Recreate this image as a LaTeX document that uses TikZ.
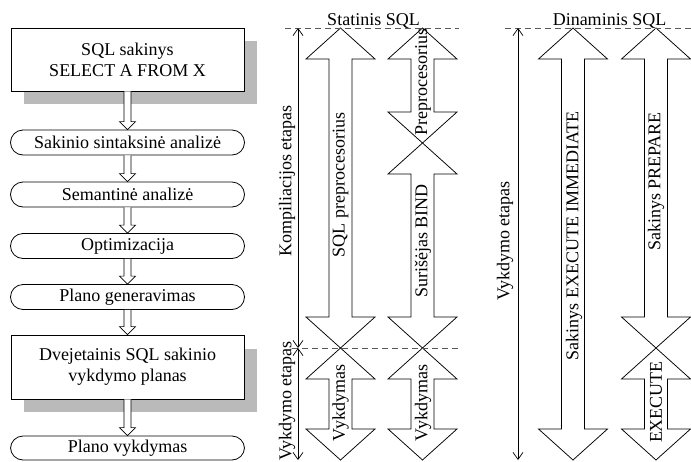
\documentclass[tikz,border=0pt]{standalone}
\usepackage{fontspec}
\setmainfont{Liberation Serif}
\usetikzlibrary{arrows.meta,calc}
\newcommand\LinkArr[2]{%
  \path let \p1=(#1.south), \p2=(#2.north) in
    [hollow] (\x1-3.5pt,\y1) -- (\x1-3.5pt,\y2+8pt) -- (\x1-8pt,\y2+8pt) -- (\x1,\y2)
    -- (\x1+8pt,\y2+8pt) -- (\x1+3.5pt,\y2+8pt) -- (\x1+3.5pt,\y1);}
\newcommand\BigArr[3]{%
  \draw[bigarrow] (#1,#2) -- (#1+34.5,#2+31) -- (#1+11.5,#2+31) -- (#1+11.5,#3-31)
    -- (#1+34.5,#3-31) -- (#1,#3) -- (#1-34.5,#3-31) -- (#1-11.5,#3-31)
    -- (#1-11.5,#2+31) -- (#1-34.5,#2+31) -- cycle;}
\begin{document}
\begin{tikzpicture}[x=1pt,y=-1pt,
  font=\fontsize{18pt}{21pt}\selectfont,
  box/.style={draw, line width=0.8pt, fill=white, minimum width=233pt, minimum height=63pt, align=center, inner sep=0pt},
  rbox/.style={draw, line width=0.8pt, fill=white, rounded corners=12.5pt, minimum width=234pt, minimum height=25pt, inner sep=0pt},
  shadowfill/.style={fill=black!27, draw=none},
  hollow/.style={draw, fill=white, line width=0.7pt},
  bigarrow/.style={draw, fill=white, line width=0.75pt, line join=miter},
  dashln/.style={draw=black!65, line width=0.8pt, dash pattern=on 6pt off 4pt},
  axis/.style={line width=0.7pt, {Straight Barb[length=7pt,width=10pt]}-{Straight Barb[length=7pt,width=10pt]}},
  vlabel/.style={rotate=90, inner sep=0pt}]
\useasboundingbox (0,0) rectangle (691,461);
% left column
\fill[shadowfill] (24,41) rectangle (257,104);
\node[box] (b1) at (127.5,59.5) {SQL sakinys\\SELECT A FROM X};
\node[rbox] (r1) at (127.5,142.5) {Sakinio sintaksinė analizė};
\node[rbox] (r2) at (127.5,194.5) {Semantinė analizė};
\node[rbox] (r3) at (127.5,246) {Optimizacija};
\node[rbox] (r4) at (127.5,297) {Plano generavimas};
\fill[shadowfill] (24,349) rectangle (257,412);
\node[box, minimum height=64pt] (b2) at (127.5,367) {Dvejetainis SQL sakinio\\vykdymo planas};
\node[rbox, minimum height=24pt] (r5) at (127.5,448) {Plano vykdymas};
\LinkArr{b1}{r1}
\LinkArr{r1}{r2}
\LinkArr{r2}{r3}
\LinkArr{r3}{r4}
\LinkArr{r4}{b2}
\LinkArr{b2}{r5}
% titles
\node[anchor=base, inner sep=0pt] (st) at (373.5,25) {Statinis SQL};
\node[anchor=base, inner sep=0pt] (dn) at (609.5,25) {Dinaminis SQL};
% big arrows
\BigArr{340.5}{28}{348}
\BigArr{340.5}{348}{460}
\BigArr{422.5}{28}{143}
\BigArr{422.5}{143}{348}
\BigArr{422.5}{348}{460}
\BigArr{573}{28}{460}
\BigArr{656}{28}{348}
\BigArr{656}{348}{460}
% dashed lines
\draw[dashln] (285,28) -- (459,28);
\draw[dashln] (505,28) -- (691,28);
\draw[dashln] (292,348) -- (459,348);
% axes
\coordinate (k1) at (298,28);
\coordinate (k2) at (298,348);
\coordinate (k3) at (298,460);
\coordinate (d1) at (518,28);
\coordinate (d2) at (518,460);
\draw[axis] (k2) -- (k1);
\draw[axis] (k2) -- (k3);
\draw[axis] (d1) -- (d2);
% labels
\node[vlabel] (l1) at (287,181) {Kompiliacijos etapas};
\node[vlabel] (l2) at (287,401) {Vykdymo etapas};
\node[vlabel] (l3) at (340.5,185) {SQL preprocesorius};
\node[vlabel] (l4) at (423,82) {Preprocesorius};
\node[vlabel] (l5) at (423,241) {Surišėjas BIND};
\node[vlabel] (l6) at (340.5,403) {Vykdymas};
\node[vlabel] (l7) at (423,403) {Vykdymas};
\node[vlabel] (l8) at (505,241) {Vykdymo etapas};
\node[vlabel] (l9) at (574,236) {Sakinys EXECUTE IMMEDIATE};
\node[vlabel] (l10) at (656,181.5) {Sakinys PREPARE};
\node[vlabel] (l11) at (656,402) {EXECUTE};
\end{tikzpicture}
\end{document}
